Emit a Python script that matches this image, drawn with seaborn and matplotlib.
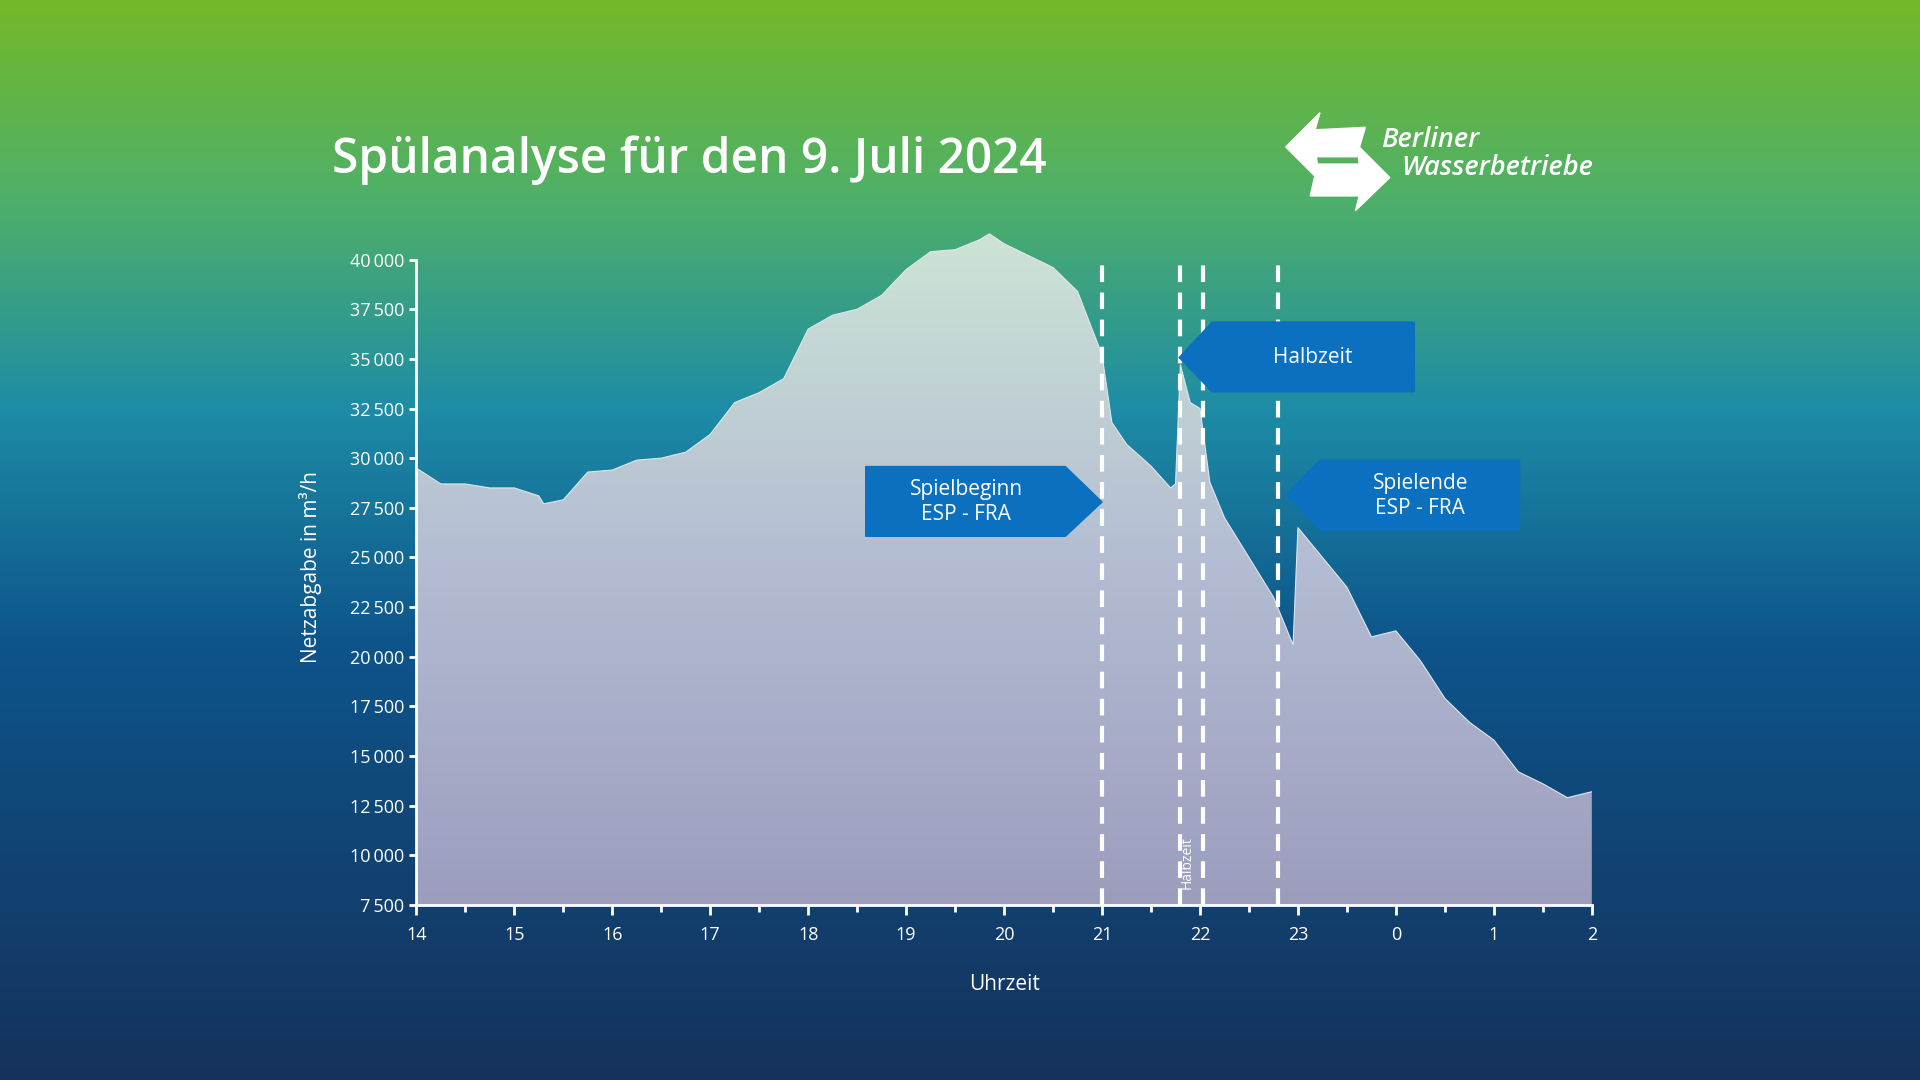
import numpy as np
import pandas as pd
import matplotlib.pyplot as plt
import matplotlib.colors as mcolors
import seaborn as sns

# hours since midnight (14 = 14:00, 26 = 02:00 next day)
hours = [14.0, 14.25, 14.5, 14.75, 15.0, 15.25, 15.3, 15.5, 15.75, 16.0, 16.25, 16.5, 16.75,
         17.0, 17.25, 17.5, 17.75, 18.0, 18.25, 18.5, 18.75, 19.0, 19.25, 19.5, 19.75, 19.85, 20.0,
         20.25, 20.5, 20.75, 21.0, 21.1, 21.25, 21.5, 21.7, 21.75, 21.8, 21.9, 22.0, 22.1,
         22.25, 22.5, 22.75, 22.9, 22.95, 23.0, 23.25, 23.5, 23.75, 24.0, 24.25, 24.5, 24.75,
         25.0, 25.25, 25.5, 25.75, 26.0]
netzabgabe = [29500, 28700, 28700, 28500, 28500, 28100, 27700, 27900, 29300, 29400, 29900, 30000, 30300,
              31200, 32800, 33300, 34000, 36500, 37200, 37500, 38200, 39500, 40400, 40500, 41000, 41300, 40800,
              40200, 39600, 38400, 35200, 31800, 30700, 29600, 28500, 28700, 34700, 32800, 32500, 28800,
              27000, 25000, 23000, 21200, 20600, 26500, 25000, 23500, 21000, 21300, 19800, 17900, 16700,
              15800, 14200, 13600, 12900, 13200]
event_lines = [21.0, 21.8, 22.03, 22.8]
y_ticks = [7500, 10000, 12500, 15000, 17500, 20000, 22500, 25000, 27500, 30000, 32500, 35000, 37500, 40000]
x_ticks = list(range(14, 27))
x_labels = [str(h % 24) for h in x_ticks]

df = pd.DataFrame({'h': hours, 'v': netzabgabe})

sns.set_style("white")
plt.rcParams['font.family'] = ['Open Sans', 'DejaVu Sans']

fig = plt.figure(figsize=(19.2, 10.8), dpi=100)

# background gradient
bg = fig.add_axes([0, 0, 1, 1], zorder=0)
bg_cmap = mcolors.LinearSegmentedColormap.from_list(
    'bg', [(0, '#73b82b'), (0.18, '#4fb068'), (0.38, '#1d8ca6'), (0.6, '#0d548a'), (1.0, '#15325c')])
grad = np.linspace(0, 1, 300).reshape(-1, 1)
bg.imshow(grad, aspect='auto', cmap=bg_cmap, extent=[0, 1, 0, 1])
bg.axis('off')

W, H = 1568.0, 882.0
ytop = 41500
top_px = 739 - (ytop - 7500) / (32500 / 527.0)
ax = fig.add_axes([340 / W, 1 - 739 / H, 960 / W, (739 - top_px) / H], zorder=1)
ax.patch.set_alpha(0)

# filled area with gradient
poly = ax.fill_between(df['h'], 7500, df['v'], color='none', lw=0)
fill_cmap = mcolors.LinearSegmentedColormap.from_list('fill', ['#9c9dbd', '#b3bcd3', '#cde4d5'])
im = ax.imshow(np.linspace(0, 1, 200).reshape(-1, 1), origin='lower', aspect='auto', cmap=fill_cmap,
               extent=[14, 26, 7500, 41500], zorder=1)
im.set_clip_path(poly.get_paths()[0], transform=ax.transData)
sns.lineplot(data=df, x='h', y='v', ax=ax, color='#dfe8ec', lw=0.8, zorder=2)

for xv in event_lines:
    ax.plot([xv, xv], [7500, 40000], color='white', lw=3, ls=(0, (4, 2.5)), zorder=3)

ax.set_xlim(14, 26)
ax.set_ylim(7500, ytop)
ax.set_xticks(x_ticks)
ax.set_xticklabels(x_labels)
ax.set_xticks(np.arange(14.5, 26, 1), minor=True)
ax.set_yticks(y_ticks)
ax.set_yticklabels([f"{v:,}".replace(',', '\u2009') for v in y_ticks])
for s in ['top', 'right']:
    ax.spines[s].set_visible(False)
for s in ['left', 'bottom']:
    ax.spines[s].set_color('white')
    ax.spines[s].set_linewidth(2)
ax.spines['left'].set_bounds(7500, 40000)
ax.tick_params(axis='both', which='both', colors='white', labelsize=13, length=7, width=2,
               direction='out', left=True, bottom=True)
ax.tick_params(axis='y', length=5)
ax.tick_params(axis='x', which='minor', length=5)
ax.tick_params(axis='x', pad=8)
ax.set_xlabel('Uhrzeit', color='white', fontsize=15, labelpad=22)
ax.set_ylabel('Netzabgabe in m³/h', color='white', fontsize=15, labelpad=20)
ax.text(21.87, 8300, 'Halbzeit', rotation=90, color='white', fontsize=10, ha='center', va='bottom', zorder=4)

def px(x, y):
    return 14 + (x - 340) / 80.0, 7500 + (739 - y) * (32500 / 527.0)

arrow_col = '#0a70bf'
shapes = [
    ([(707, 381), (870, 381), (900, 410), (870, 438), (707, 438)], 'Spielbeginn\nESP - FRA', 789, 410),
    ([(963, 292), (990, 263), (1155, 263), (1155, 320), (990, 320)], 'Halbzeit', 1072, 292),
    ([(1050, 404), (1078, 376), (1241, 376), (1241, 433), (1078, 433)], 'Spielende\nESP - FRA', 1160, 405),
]
for pts, label, tx, ty in shapes:
    xs, ys = zip(*[px(a, b) for a, b in pts])
    ax.fill(xs, ys, color=arrow_col, zorder=5, clip_on=False)
    lx, ly = px(tx, ty)
    ax.text(lx, ly, label, color='white', fontsize=15, ha='center', va='center',
            linespacing=1.3, zorder=6)

fig.text(271 / W, 1 - 131 / H, 'Spülanalyse für den 9. Juli 2024', color='white',
         fontsize=34.5, fontweight='semibold', va='center', ha='left')

# logo
def fpx(x, y):
    return x / W, 1 - y / H
lg1 = [(1050, 120), (1078, 92), (1074, 106), (1115, 104), (1108, 128), (1075, 128), (1078, 148)]
lg2 = [(1135, 145), (1107, 172), (1110, 160), (1070, 160), (1076, 134), (1110, 134), (1108, 118)]
for pts, col in ((lg2, 'white'), (lg1, 'white')):
    xs, ys = zip(*[fpx(a, b) for a, b in pts])
    bg.fill(xs, ys, color=col, transform=fig.transFigure)
fig.text(1128 / W, 1 - 114 / H, 'Berliner', color='white', fontsize=19.5, style='italic',
         fontweight='semibold', va='center')
fig.text(1144 / W, 1 - 137 / H, 'Wasserbetriebe', color='white', fontsize=19.5, style='italic',
         fontweight='semibold', va='center')

fig.savefig('out.png', dpi=100)
